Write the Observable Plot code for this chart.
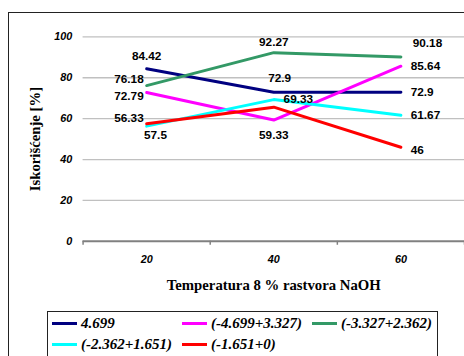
<!DOCTYPE html>
<html><head><meta charset="utf-8">
<script src="https://cdn.jsdelivr.net/npm/d3@7"></script>
<script src="https://cdn.jsdelivr.net/npm/@observablehq/plot@0.6"></script>
<style>
html,body{margin:0;padding:0;background:#fff;overflow:hidden;}
#wrap{position:relative;width:464px;height:356px;overflow:hidden;}
#frame{position:absolute;left:8px;top:12px;width:600px;height:400px;border:1px solid #222;box-sizing:border-box;}
#chart{position:absolute;left:0;top:0;}
#legend{position:absolute;left:47px;top:311px;width:391px;height:60px;border:1px solid #222;box-sizing:border-box;font:italic bold 15px "Liberation Serif","Times New Roman",serif;}
.item{position:absolute;display:flex;align-items:center;white-space:nowrap;}
.sw{display:inline-block;width:25px;height:3px;margin-right:4px;}
</style></head>
<body><div id="wrap"><div id="frame"></div><div id="chart"></div><div id="legend"></div></div>
<script>
const temperatures = [20, 40, 60];
const seriesNames = ["4.699", "(-4.699+3.327)", "(-3.327+2.362)", "(-2.362+1.651)", "(-1.651+0)"];
const seriesColors = ["#000080", "#ff00ff", "#339966", "#00ffff", "#ff0000"];
const s1 = [84.42, 72.9, 72.9];
const s2 = [72.79, 59.33, 85.64];
const s3 = [76.18, 92.27, 90.18];
const s4 = [56.33, 69.33, 61.67];
const s5 = [57.5, 65.6, 46];
const shownLabels = [
  ["84.42","72.9","72.9"],
  ["72.79","59.33","85.64"],
  ["76.18","92.27","90.18"],
  ["56.33","69.33","61.67"],
  ["57.5","","46"]
];
const yTicks = [0, 20, 40, 60, 80, 100];
// label offsets [dx, dy, anchor]
const labelOffsets = [
  [[0,-13,"middle"],[6,-14,"middle"],[10,0,"start"]],
  [[-3,4,"end"],[0,15,"middle"],[10,0,"start"]],
  [[-3,-6,"end"],[0,-11,"middle"],[12,-14,"start"]],
  [[-3,-8,"end"],[10,0,"start"],[10,0,"start"]],
  [[9,12,"middle"],[0,0,"middle"],[10,3,"start"]]
];
const allSeries = [s1, s2, s3, s4, s5];
const rows = [];
allSeries.forEach((vals, i) => vals.forEach((v, j) => rows.push({
  t: temperatures[j], v, s: seriesNames[i], label: shownLabels[i][j],
  dx: labelOffsets[i][j][0], dy: labelOffsets[i][j][1], anchor: labelOffsets[i][j][2]
})));
const sansBold = '"Liberation Sans", Arial, sans-serif';
const serif = '"Liberation Serif", "Times New Roman", serif';
const labelMarks = [];
rows.filter(d => d.label).forEach(d => {
  labelMarks.push(Plot.text([d], {x: "t", y: "v", text: "label", dx: d.dx, dy: d.dy, textAnchor: d.anchor,
    fontWeight: "bold", fontSize: 12, fill: "#000", fontFamily: sansBold}));
});
const chart = Plot.plot({
  width: 472, height: 356,
  marginLeft: 84, marginRight: 0, marginTop: 37, marginBottom: 111,
  style: {background: "transparent", overflow: "visible"},
  x: {domain: [10, 70], axis: null},
  y: {domain: [0, 100], axis: null},
  color: {domain: seriesNames, range: seriesColors},
  marks: [
    Plot.ruleY(yTicks.filter(d => d > 0), {stroke: "#c0c0c0", strokeWidth: 1.3}),
    Plot.ruleY([0], {stroke: "#808080", strokeWidth: 2}),
    Plot.axisX({ticks: [10, 30, 50, 70], tickSize: 4, tickFormat: () => "", stroke: "#808080", strokeWidth: 1.5, label: null}),
    Plot.axisX({ticks: temperatures, tickSize: 0, tickPadding: 14, fontSize: 11, fontWeight: "bold", fontStyle: "italic", fontFamily: sansBold, fill: "#000", label: null}),
    Plot.axisY({ticks: yTicks, tickSize: 0, tickPadding: 11, fontSize: 11, fontWeight: "bold", fontStyle: "italic", fontFamily: sansBold, fill: "#000", label: null}),
    Plot.line(rows, {x: "t", y: "v", z: "s", stroke: "s", strokeWidth: 3}),
    ...labelMarks,
    Plot.text(["Iskorišćenje [%]"], {frameAnchor: "left", dx: -49, rotate: -90, textAnchor: "middle", lineAnchor: "middle", fontFamily: serif, fontWeight: "bold", fontSize: 15, fill: "#000"}),
    Plot.text(["Temperatura 8 % rastvora NaOH"], {frameAnchor: "bottom", dy: 45, lineAnchor: "middle", fontFamily: serif, fontWeight: "bold", fontSize: 15, fill: "#000"})
  ]
});
document.getElementById("chart").appendChild(chart);
const legendPos = [[4, 3], [134, 3], [264, 3], [4, 24], [134, 24]];
const legend = document.getElementById("legend");
seriesNames.forEach((n, i) => {
  const it = document.createElement("div");
  it.className = "item";
  it.style.left = legendPos[i][0] + "px";
  it.style.top = legendPos[i][1] + "px";
  it.innerHTML = `<span class="sw" style="background:${seriesColors[i]}"></span><span>${n}</span>`;
  legend.appendChild(it);
});
</script></body></html>
